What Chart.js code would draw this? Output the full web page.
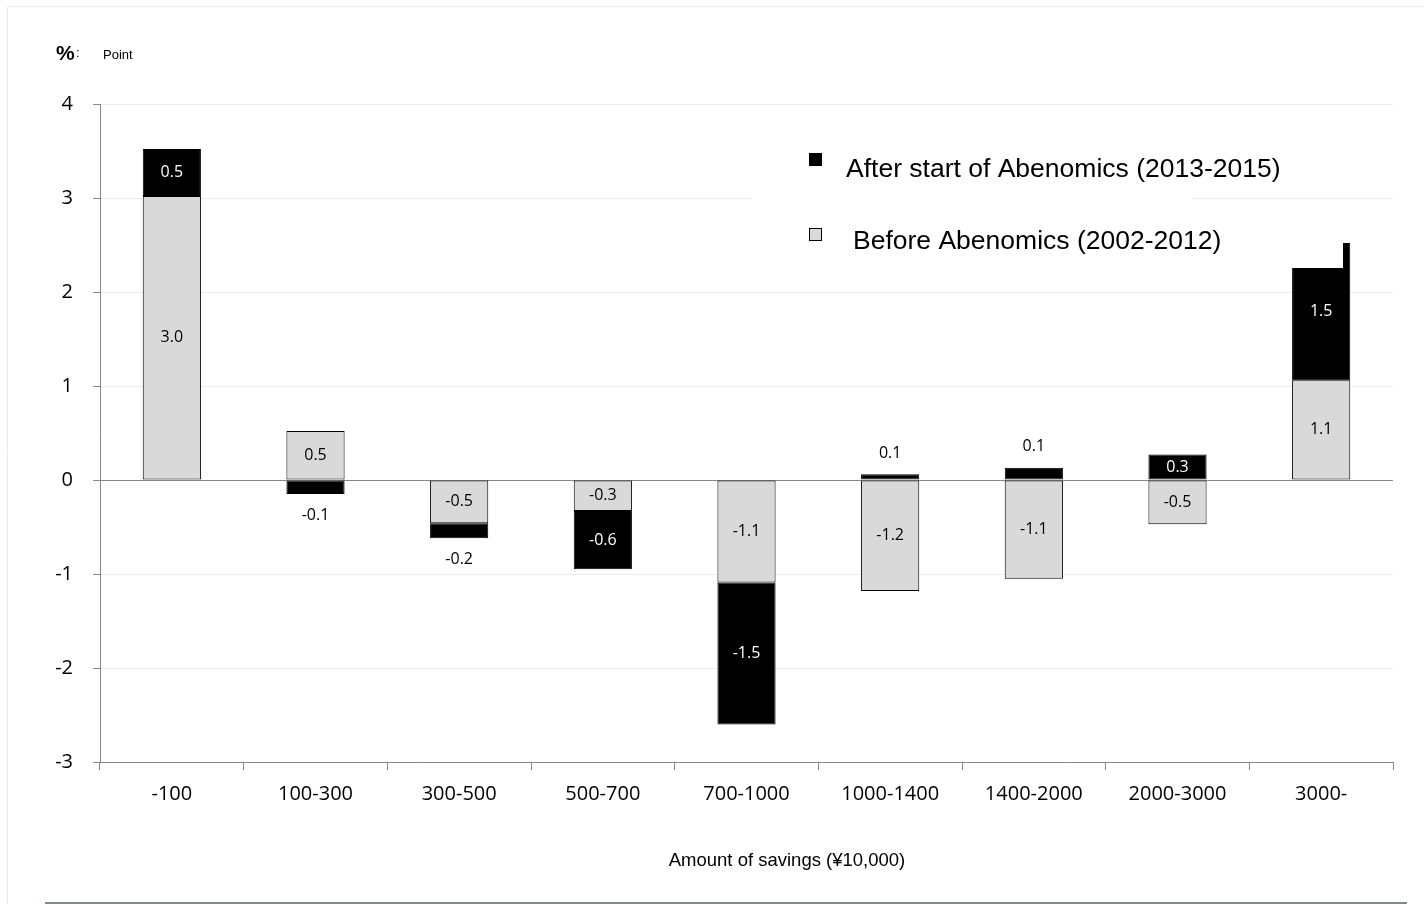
<!DOCTYPE html>
<html><head><meta charset="utf-8">
<script src="https://cdn.jsdelivr.net/npm/chart.js@4.4.1/dist/chart.umd.min.js"></script>
<style>html,body{margin:0;padding:0;background:#fff;}canvas{display:block;}</style>
</head><body>
<canvas id="c" width="1424" height="904"></canvas>
<script>
const categories = ['-100','100-300','300-500','500-700','700-1000','1000-1400','1400-2000','2000-3000','3000-'];
const beforeValues = [3.02, 0.52, -0.46, -0.33, -1.09, -1.18, -1.05, -0.47, 1.06];
const afterValues  = [0.50, -0.15, -0.16, -0.62, -1.51, 0.06, 0.13, 0.27, 1.46];
const seriesNames = ['Before Abenomics (2002-2012)', 'After start of Abenomics (2013-2015)'];
const yMin = -3, yMax = 4, yStep = 1;
const xAxisTitle = 'Amount of savings (\u00A510,000)';
const unitMain = '%', unitSub = 'Point';

const LBL_FONT = '"Open Sans", "Noto Sans", sans-serif';
const ARIAL = '"Liberation Sans", Arial, sans-serif';

const extras = {
  id: 'extras',
  beforeDraw(chart) {
    const c = chart.ctx;
    c.save();
    c.fillStyle = '#fff';
    c.fillRect(0, 0, chart.width, chart.height);
    // page frame
    c.strokeStyle = '#ececec'; c.lineWidth = 1;
    c.beginPath(); c.moveTo(7.5, 904); c.lineTo(7.5, 6.5); c.lineTo(1424, 6.5); c.stroke();
    c.strokeStyle = '#7b8e8c'; c.lineWidth = 2;
    c.beginPath(); c.moveTo(45, 903); c.lineTo(1407, 903); c.stroke();
    // unit label
    c.fillStyle = '#000'; c.textBaseline = 'middle'; c.textAlign = 'left';
    c.font = 'bold 21px ' + ARIAL; c.fillText(unitMain, 56, 54);
    c.font = '13px ' + ARIAL; c.fillText(':', 76, 53);
    c.font = '13px ' + ARIAL; c.fillText(unitSub, 103, 55);
    // x axis title
    c.textAlign = 'center'; c.font = '18.5px ' + ARIAL;
    c.fillText(xAxisTitle, 787, 861);
    c.restore();
  },
  afterDatasetsDraw(chart) {
    const c = chart.ctx;
    c.save();
    // legend background boxes
    c.fillStyle = '#fff';
    c.fillRect(752, 128, 440, 140);
    c.fillRect(1192, 205, 151, 63);
    // legend entries
    c.fillStyle = '#000'; c.fillRect(809, 153, 13, 13);
    c.fillStyle = '#d9d9d9'; c.fillRect(809.5, 228.5, 12, 12);
    c.strokeStyle = '#000'; c.lineWidth = 1; c.strokeRect(809.5, 228.5, 12, 12);
    c.fillStyle = '#000'; c.textAlign = 'left'; c.textBaseline = 'middle';
    c.font = '26.5px ' + ARIAL;
    c.fillText(seriesNames[1], 846, 170);
    c.fillText(seriesNames[0], 853, 242);
    // data labels
    c.font = '16px ' + LBL_FONT; c.textAlign = 'center';
    chart.data.datasets.forEach((ds, di) => {
      const meta = chart.getDatasetMeta(di);
      meta.data.forEach((bar, i) => {
        const v = ds.data[i];
        const top = Math.min(bar.y, bar.base), bot = Math.max(bar.y, bar.base);
        const h = bot - top;
        let y, col;
        if (h < 20) {
          y = v < 0 ? bot + 21 : top - 21;
          col = '#000';
        } else {
          y = (top + bot) / 2;
          col = di === 1 ? '#fff' : '#000';
        }
        c.fillStyle = col;
        c.fillText(v.toFixed(1), bar.x, y);
      });
    });
    c.restore();
  }
};

new Chart(document.getElementById('c'), {
  type: 'bar',
  data: {
    labels: categories,
    datasets: [
      { label: seriesNames[0], data: beforeValues, backgroundColor: '#d9d9d9', borderColor: '#000', borderWidth: 1, borderSkipped: false, barPercentage: 0.405, categoryPercentage: 1 },
      { label: seriesNames[1], data: afterValues, backgroundColor: '#000', borderColor: '#000', borderWidth: 1, borderSkipped: false, barPercentage: 0.405, categoryPercentage: 1 }
    ]
  },
  options: {
    responsive: false, animation: false, devicePixelRatio: 1,
    layout: { padding: { left: 0, right: 31, top: 104, bottom: 0 } },
    plugins: { legend: { display: false }, tooltip: { enabled: false } },
    scales: {
      x: {
        stacked: true,
        grid: { display: true, drawOnChartArea: false, offset: true, tickLength: 8, color: '#868686' },
        border: { color: '#868686', width: 1 },
        ticks: { color: '#000', font: { family: LBL_FONT, size: 20 }, padding: 12, maxRotation: 0 },
        afterFit: s => { s.height = 142; }
      },
      y: {
        stacked: true, min: yMin, max: yMax,
        ticks: { stepSize: yStep, color: '#000', font: { family: LBL_FONT, size: 20 }, padding: 20 },
        grid: { color: ctx => (ctx.tick && ctx.tick.value === 0) ? '#868686' : '#ececec', tickColor: '#868686', tickLength: 7 },
        border: { color: '#868686', width: 1 },
        afterFit: s => { s.width = 100; }
      }
    }
  },
  plugins: [extras]
});
</script>
</body></html>
